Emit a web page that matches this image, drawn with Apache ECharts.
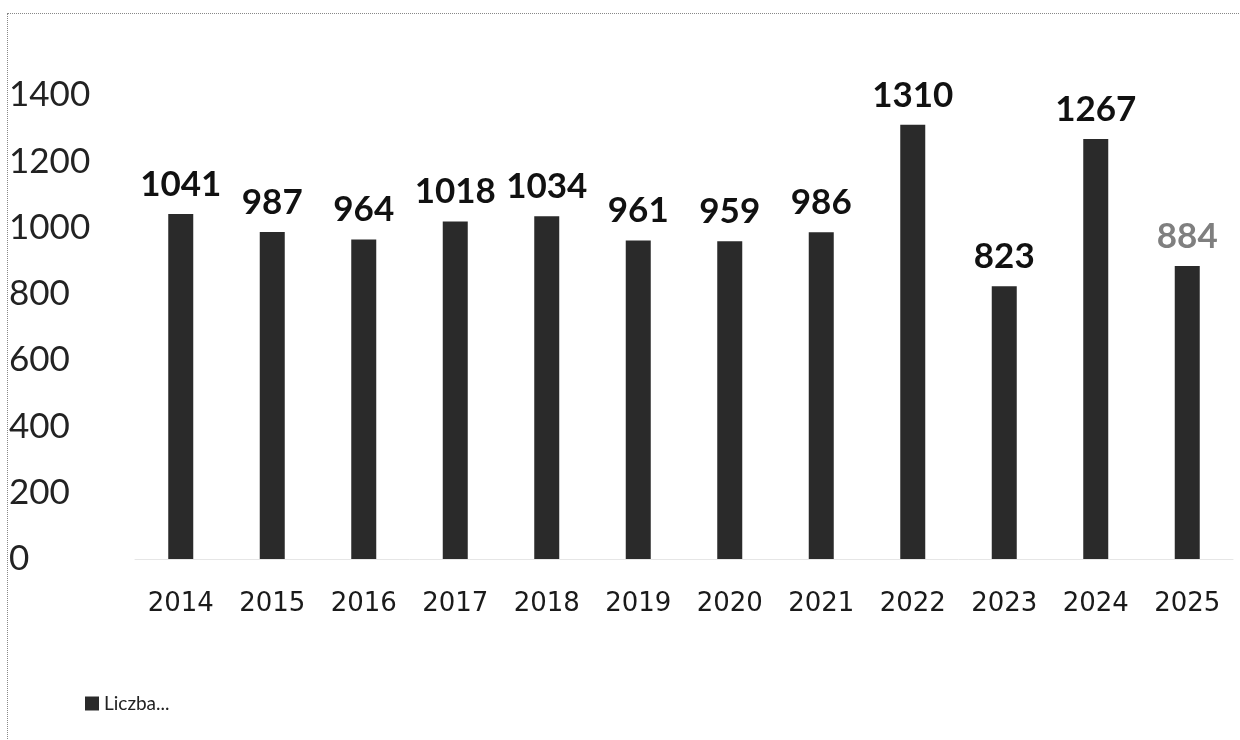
<!DOCTYPE html>
<html>
<head>
<meta charset="utf-8">
<script src="https://cdn.jsdelivr.net/npm/echarts@6/dist/echarts.min.js"></script>
<style>
html,body{margin:0;padding:0;background:#fff;}
#wrap{position:relative;width:1240px;height:740px;}
#frame{position:absolute;left:7px;top:13px;width:1240px;height:740px;border-left:1px dotted #888;border-top:1px dotted #888;box-sizing:border-box;}
#chart{position:absolute;left:0;top:0;width:1240px;height:740px;}
</style>
</head>
<body>
<div id="wrap"><div id="frame"></div><div id="chart"></div></div>
<script>
var categories = ['2014','2015','2016','2017','2018','2019','2020','2021','2022','2023','2024','2025'];
var values = [1041, 987, 964, 1018, 1034, 961, 959, 986, 1310, 823, 1267, 884];
var yTicks = [0, 200, 400, 600, 800, 1000, 1200, 1400];
var seriesName = 'Liczba...';

var chart = echarts.init(document.getElementById('chart'));
var data = values.map(function (v, i) {
  var item = { value: v };
  if (i === values.length - 1) item.label = { color: '#7f7f7f' };
  return item;
});
chart.setOption({
  animation: false,
  grid: { left: 135, right: 7, top: 95, bottom: 181 },
  legend: {
    left: 80, top: 689, itemWidth: 14, itemHeight: 14, itemGap: 6,
    textStyle: { fontFamily: 'Lato', fontSize: 19, color: '#222' },
    data: [{ name: seriesName, icon: 'rect' }]
  },
  xAxis: {
    type: 'category', data: categories,
    axisLine: { show: true, lineStyle: { color: '#e6e6e6', width: 1 } },
    axisTick: { show: false },
    axisLabel: { margin: 32, fontFamily: 'DejaVu Sans', fontSize: 26, color: '#1a1a1a' }
  },
  yAxis: {
    type: 'value', min: yTicks[0], max: yTicks[yTicks.length - 1], interval: 200,
    splitLine: { show: false },
    axisLine: { show: false }, axisTick: { show: false },
    axisLabel: { align: 'left', margin: 126, fontFamily: 'Lato', fontSize: 35, color: '#222',
      formatter: function (v) { return String(v); } }
  },
  series: [{
    name: seriesName, type: 'bar', barWidth: 25, data: data,
    itemStyle: { color: '#2a2a2a' },
    label: { show: true, position: 'top', distance: 12, fontFamily: 'Lato', fontWeight: 'bold', fontSize: 35, color: '#111' }
  }]
});
</script>
</body>
</html>
